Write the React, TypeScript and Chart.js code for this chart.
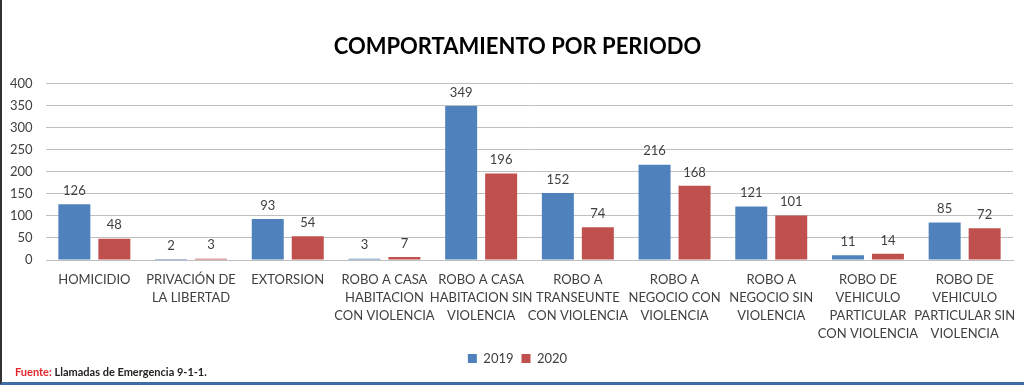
import React, { useEffect, useRef } from "react";
import { Chart, registerables } from "chart.js";

Chart.register(...registerables);

const categories: string[][] = [
  ["HOMICIDIO"],
  ["PRIVACIÓN DE", "LA LIBERTAD"],
  ["EXTORSION"],
  ["ROBO A CASA", "HABITACION", "CON VIOLENCIA"],
  ["ROBO A CASA", "HABITACION SIN", "VIOLENCIA"],
  ["ROBO A", "TRANSEUNTE", "CON VIOLENCIA"],
  ["ROBO A", "NEGOCIO CON", "VIOLENCIA"],
  ["ROBO A", "NEGOCIO SIN", "VIOLENCIA"],
  ["ROBO DE", "VEHICULO", "PARTICULAR", "CON VIOLENCIA"],
  ["ROBO DE", "VEHICULO", "PARTICULAR SIN", "VIOLENCIA"],
];
const values2019: number[] = [126, 2, 93, 3, 349, 152, 216, 121, 11, 85];
const values2020: number[] = [48, 3, 54, 7, 196, 74, 168, 101, 14, 72];
const seriesNames: string[] = ["2019", "2020"];
const yTicks = { min: 0, max: 400, step: 50 };

const TEXT = "#404040";
const FONT = "Lato, 'Open Sans', sans-serif";

const dataLabels = {
  id: "dataLabels",
  afterDatasetsDraw(chart: any) {
    const ctx = chart.ctx;
    ctx.save();
    ctx.fillStyle = TEXT;
    ctx.font = `13px ${FONT}`;
    ctx.textAlign = "center";
    ctx.textBaseline = "bottom";
    chart.data.datasets.forEach((ds: any, i: number) => {
      const meta = chart.getDatasetMeta(i);
      meta.data.forEach((bar: any, j: number) => {
        ctx.fillText(String(ds.data[j]), bar.x, bar.y - 7);
      });
    });
    ctx.restore();
  },
};

export default function App() {
  const ref = useRef<HTMLCanvasElement | null>(null);
  useEffect(() => {
    document.body.style.margin = "0";
    const chart = new Chart(ref.current!, {
      type: "bar",
      data: {
        labels: categories,
        datasets: [
          { label: seriesNames[0], data: values2019, backgroundColor: "#4F81BD" },
          { label: seriesNames[1], data: values2020, backgroundColor: "#C0504D" },
        ],
      },
      options: {
        animation: false,
        responsive: false,
        maintainAspectRatio: false,
        layout: { padding: { left: 20, right: 11, top: 0, bottom: 7 } },
        datasets: { bar: { barPercentage: 0.8, categoryPercentage: 0.827 } },
        plugins: {
          title: {
            display: true,
            text: "COMPORTAMIENTO POR PERIODO",
            color: "#000",
            font: { family: FONT, size: 22, weight: "bold" },
            padding: { top: 34, bottom: 23 },
          },
          legend: {
            display: true,
            position: "bottom",
            labels: {
              color: TEXT,
              font: { family: FONT, size: 13 },
              boxWidth: 9,
              boxHeight: 9,
              padding: 8,
            },
          },
          tooltip: { enabled: false },
        },
        scales: {
          x: {
            grid: { display: false },
            border: { display: true, color: "#BFBFBF", width: 1 },
            afterFit: (scale: any) => {
              scale.height = 84;
            },
            ticks: {
              color: TEXT,
              font: { family: FONT, size: 13, lineHeight: 1.37 },
              maxRotation: 0,
              autoSkip: false,
              padding: 3,
            },
          },
          y: {
            min: yTicks.min,
            max: yTicks.max,
            afterFit: (scale: any) => {
              scale.width = 24;
            },
            ticks: {
              stepSize: yTicks.step,
              color: TEXT,
              font: { family: FONT, size: 13 },
              mirror: true,
              crossAlign: "far",
              padding: -36,
            },
            grid: { color: "#BFBFBF", lineWidth: 1, drawTicks: false },
            border: { display: false },
          },
        },
      },
      plugins: [dataLabels],
    });
    return () => chart.destroy();
  }, []);

  return (
    <div
      style={{
        position: "relative",
        width: 1024,
        height: 385,
        background: "#fff",
        boxSizing: "border-box",
        borderLeft: "2px solid #333",
        borderBottom: "3px solid #3D6FA6",
        overflow: "hidden",
      }}
    >
      <canvas ref={ref} width={1022} height={382} style={{ display: "block" }} />
      <div
        style={{
          position: "absolute",
          left: 13,
          top: 365,
          fontFamily: FONT,
          fontWeight: "bold",
          fontSize: 11,
          color: "#222",
          whiteSpace: "nowrap",
        }}
      >
        <span style={{ color: "#E3262B" }}>Fuente:</span> Llamadas de Emergencia 9-1-1.
      </div>
    </div>
  );
}
